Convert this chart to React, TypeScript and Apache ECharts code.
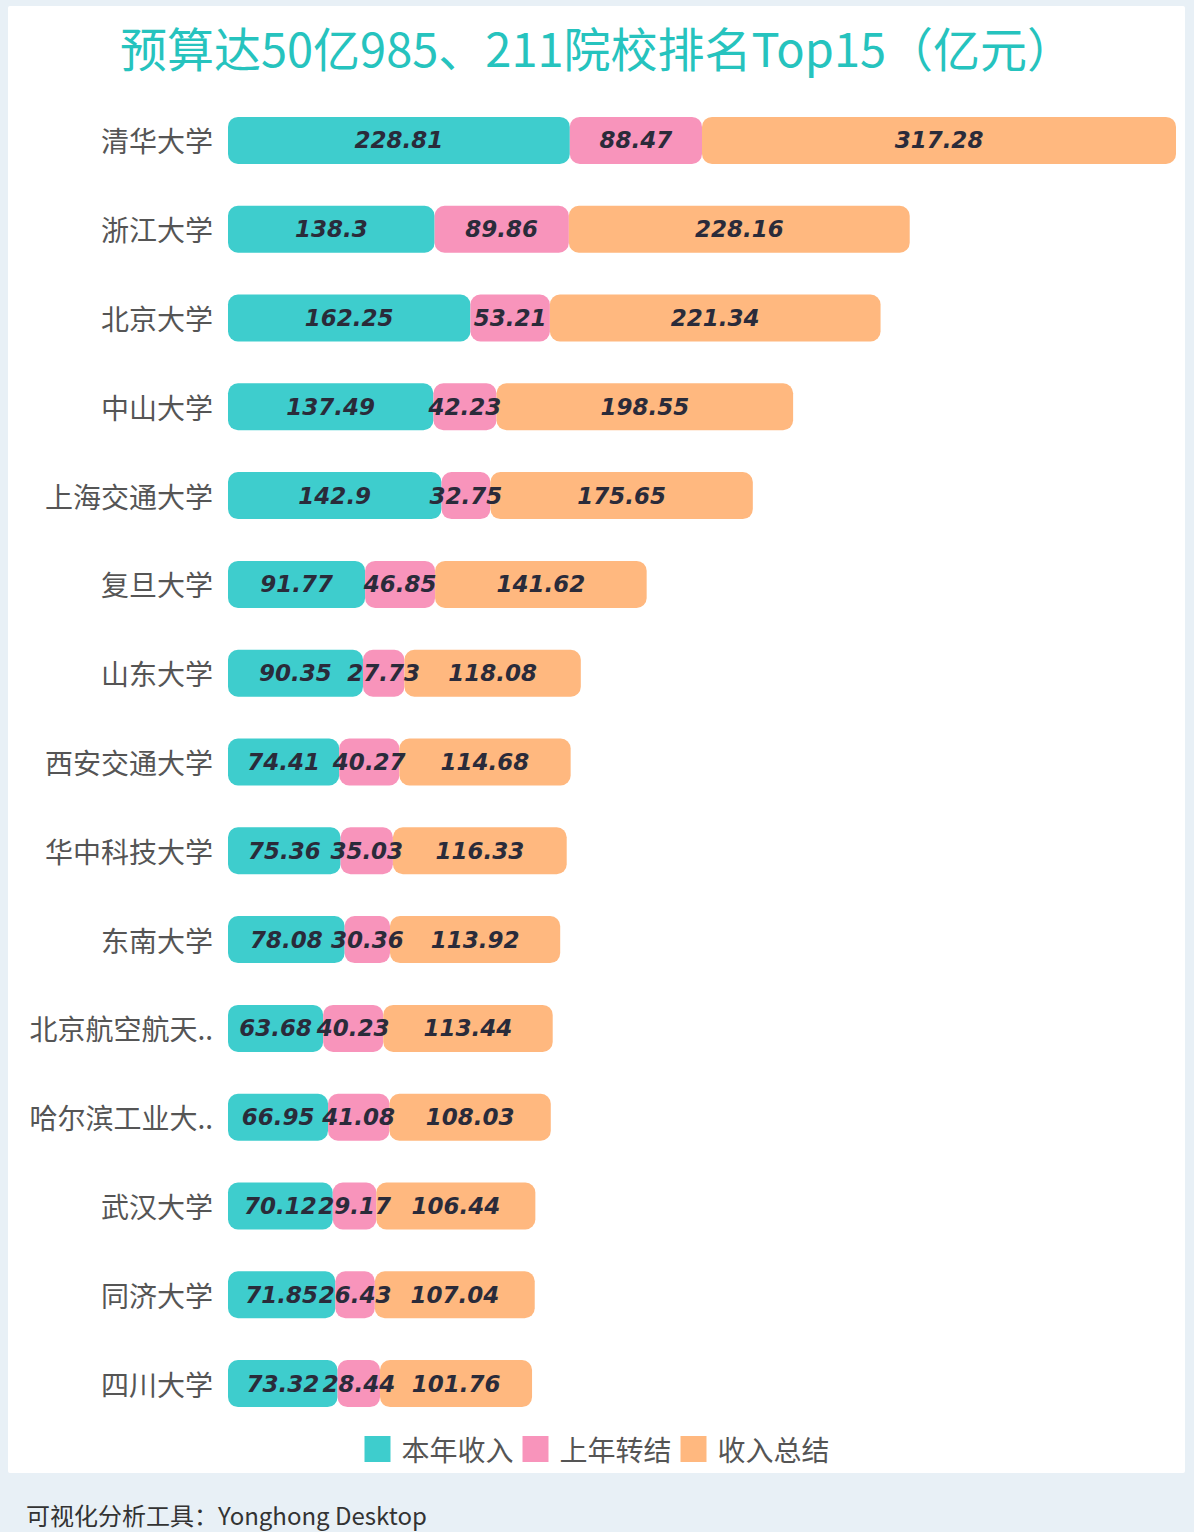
import React, { useEffect, useRef } from "react";
import * as echarts from "echarts";

const universities = [
  "清华大学",
  "浙江大学",
  "北京大学",
  "中山大学",
  "上海交通大学",
  "复旦大学",
  "山东大学",
  "西安交通大学",
  "华中科技大学",
  "东南大学",
  "北京航空航天大学",
  "哈尔滨工业大学",
  "武汉大学",
  "同济大学",
  "四川大学",
];

const currentIncome = [228.81, 138.3, 162.25, 137.49, 142.9, 91.77, 90.35, 74.41, 75.36, 78.08, 63.68, 66.95, 70.12, 71.85, 73.32];
const carryOver = [88.47, 89.86, 53.21, 42.23, 32.75, 46.85, 27.73, 40.27, 35.03, 30.36, 40.23, 41.08, 29.17, 26.43, 28.44];
const totalIncome = [317.28, 228.16, 221.34, 198.55, 175.65, 141.62, 118.08, 114.68, 116.33, 113.92, 113.44, 108.03, 106.44, 107.04, 101.76];

const seriesNames = ["本年收入", "上年转结", "收入总结"];
const seriesColors = ["#3ECDCD", "#F894BB", "#FFB87F"];

const titleText = "预算达50亿985、211院校排名Top15（亿元）";
const footerText = "可视化分析工具：Yonghong Desktop";

const CJK = '"Noto Sans CJK SC", "Noto Sans", sans-serif';

export default function App() {
  const ref = useRef<HTMLDivElement>(null);

  useEffect(() => {
    if (!ref.current) return;
    const chart = echarts.init(ref.current, undefined, { renderer: "svg" });
    const dataSets = [currentIncome, carryOver, totalIncome];

    const label = {
      show: true,
      position: "inside",
      fontFamily: '"DejaVu Sans", sans-serif',
      fontStyle: "italic",
      fontWeight: "bold",
      fontSize: 23,
      color: "#2A2B3A",
    };

    chart.setOption({
      animation: false,
      graphic: [
        { type: "rect", left: 0, top: 0, shape: { width: 1194, height: 1532 }, style: { fill: "#E8F0F6" }, z: -10 },
        { type: "rect", left: 8, top: 6, shape: { width: 1177, height: 1467, r: 2 }, style: { fill: "#FFFFFF" }, z: -9 },
        {
          type: "text",
          left: 26,
          top: 1502,
          style: { text: footerText, fontSize: 24, fill: "#333333", fontFamily: CJK },
        },
      ],
      title: {
        text: titleText,
        left: "center",
        top: 18,
        textStyle: { fontSize: 47, color: "#26C3BE", fontWeight: "normal", fontFamily: CJK },
      },
      legend: {
        data: seriesNames,
        bottom: 64,
        left: "center",
        icon: "rect",
        itemWidth: 26,
        itemHeight: 26,
        itemGap: 9,
        textStyle: { fontSize: 28, color: "#555555", fontFamily: CJK, padding: [0, 0, 0, 6] },
      },
      grid: { left: 228, right: 18, top: 96, bottom: 104, containLabel: false },
      xAxis: {
        type: "value",
        min: 0,
        max: "dataMax",
        show: false,
      },
      yAxis: {
        type: "category",
        data: universities,
        inverse: true,
        axisLine: { show: false },
        axisTick: { show: false },
        splitLine: { show: false },
        axisLabel: {
          fontSize: 28,
          color: "#555555",
          fontFamily: CJK,
          margin: 15,
          formatter: (v: string) => (v.length > 6 ? v.slice(0, 6) + ".." : v),
        },
      },
      series: seriesNames.map((name, i) => ({
        name,
        type: "bar",
        stack: "total",
        barWidth: 47,
        data: dataSets[i],
        itemStyle: { color: seriesColors[i], borderRadius: 10 },
        label,
      })),
    });

    return () => chart.dispose();
  }, []);

  return (
    <div
      ref={ref}
      style={{ position: "absolute", left: 0, top: 0, width: 1194, height: 1532 }}
    />
  );
}
